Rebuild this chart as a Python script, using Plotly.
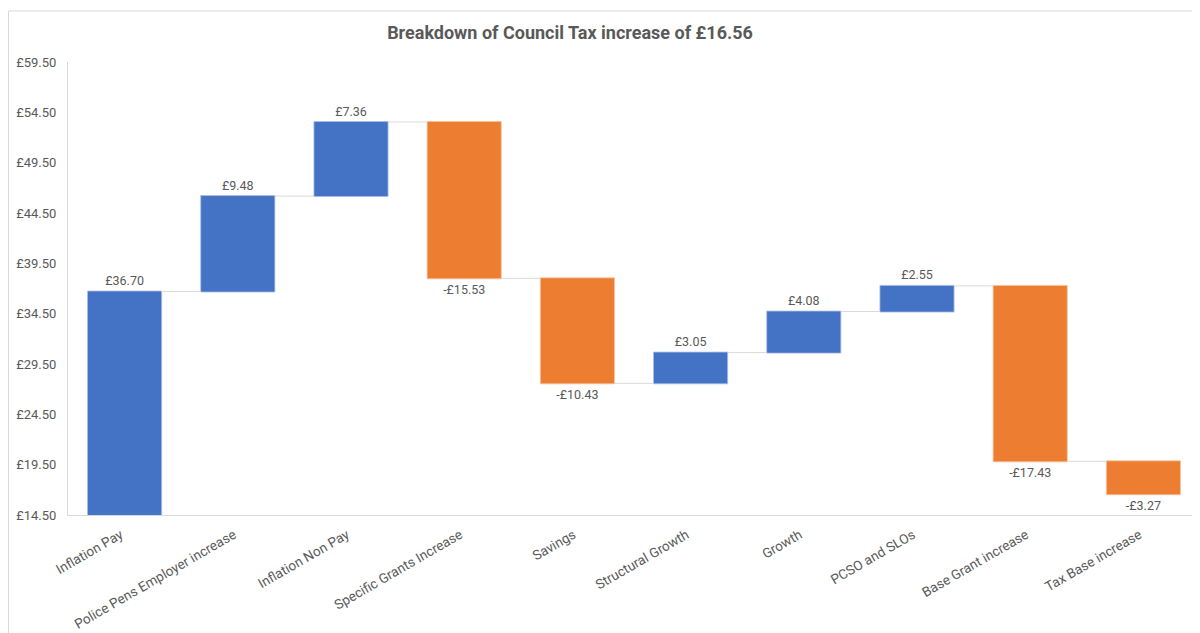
import plotly.graph_objects as go

categories = ["Inflation Pay", "Police Pens Employer increase", "Inflation Non Pay",
              "Specific Grants Increase", "Savings", "Structural Growth", "Growth",
              "PCSO and SLOs", "Base Grant increase", "Tax Base increase"]
values = [36.70, 9.48, 7.36, -15.53, -10.43, 3.05, 4.08, 2.55, -17.43, -3.27]
tick_values = [14.5, 19.5, 24.5, 29.5, 34.5, 39.5, 44.5, 49.5, 54.5, 59.5]
tick_labels = [f"£{t:.2f}" for t in tick_values]

labels = [f"£{v:.2f}" if v >= 0 else f"-£{abs(v):.2f}" for v in values]

FONT = "Roboto"
GREY = "#595959"

fig = go.Figure(go.Waterfall(
    x=categories,
    y=values,
    measure=["relative"] * len(values),
    text=labels,
    textposition="outside",
    textfont=dict(family=FONT, size=12.5, color=GREY),
    increasing=dict(marker=dict(color="#4472C4", line=dict(color="#A9BEE6", width=0.8))),
    decreasing=dict(marker=dict(color="#ED7D31", line=dict(color="#F6C3A0", width=0.8))),
    connector=dict(line=dict(color="#D9D9D9", width=1)),
    cliponaxis=False,
    hoverinfo="skip",
))

# page body has an 8px offset; figure occupies screen 8..1200 x 8..633
W, H = 1192, 625
L, R, T, B = 60, 0, 54, 118
pw, ph = W - L - R, H - T - B

fig.update_layout(
    width=W, height=H,
    margin=dict(l=L, r=R, t=T, b=B),
    paper_bgcolor="white", plot_bgcolor="white",
    showlegend=False,
    waterfallgap=0.345,
    title=dict(text="<b>Breakdown of Council Tax increase of £16.56</b>",
               x=(570 - 8) / W, xanchor="center", y=1 - 25 / H, yanchor="middle",
               font=dict(family=FONT, size=18, color=GREY)),
    xaxis=dict(tickangle=-30, tickfont=dict(family=FONT, size=13.5, color=GREY),
               showline=True, linecolor="#D9D9D9", linewidth=1, showgrid=False,
               ticks="", ticklabelstandoff=6, ticklabelshift=-4),
    yaxis=dict(range=[14.5, 59.5], tickvals=tick_values, ticktext=tick_labels,
               tickfont=dict(family=FONT, size=13, color=GREY),
               showline=True, linecolor="#D9D9D9", linewidth=1, showgrid=False,
               zeroline=False, ticks="", ticklen=0, ticklabelstandoff=8),
    shapes=[
        dict(type="line", xref="paper", yref="paper",
             x0=(0.5 - L) / pw, x1=1.05, y0=1 + (T - 3) / ph, y1=1 + (T - 3) / ph,
             line=dict(color="#D9D9D9", width=1)),
        dict(type="line", xref="paper", yref="paper",
             x0=(0.5 - L) / pw, x1=(0.5 - L) / pw, y0=-0.3, y1=1 + (T - 3) / ph,
             line=dict(color="#D9D9D9", width=1)),
    ],
)

fig.write_html("out.html")
